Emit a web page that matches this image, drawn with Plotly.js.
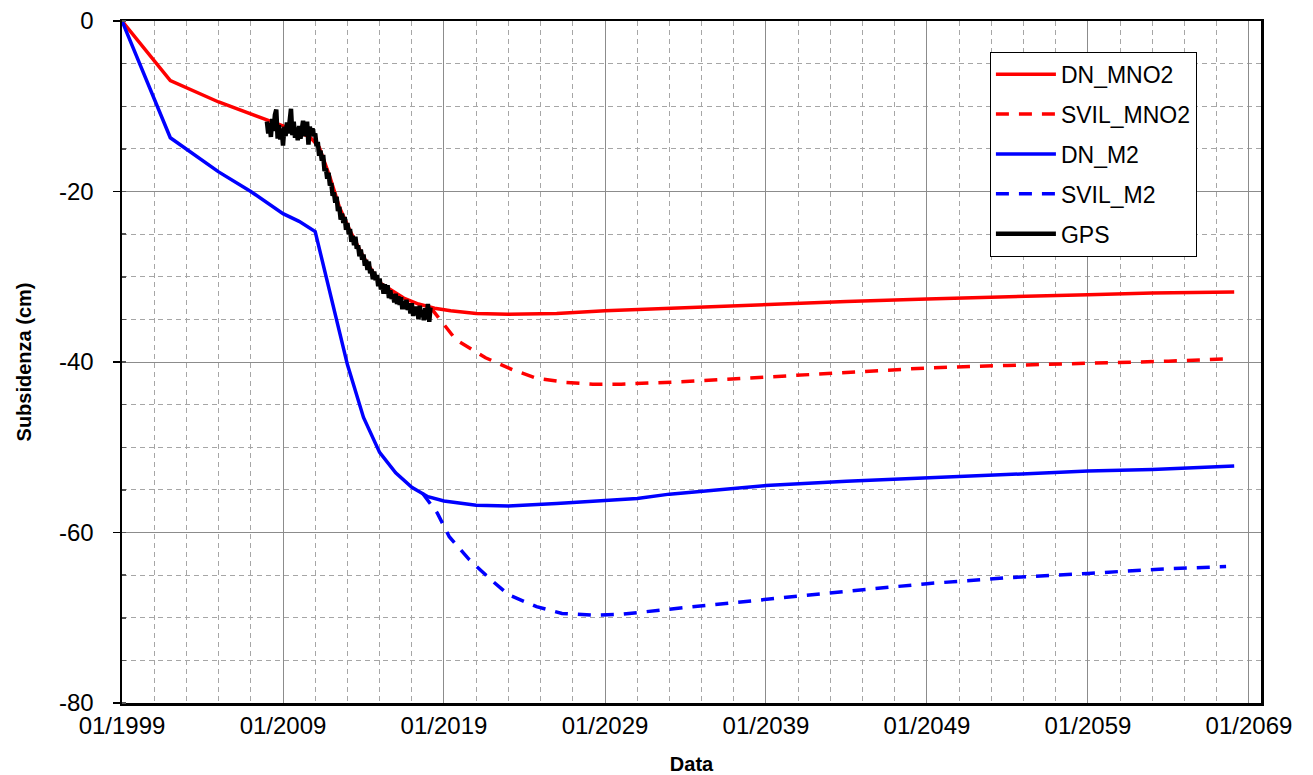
<!DOCTYPE html>
<html>
<head>
<meta charset="utf-8">
<script src="https://cdn.plot.ly/plotly-3.0.1.min.js"></script>
<style>html,body{margin:0;padding:0;background:#fff;}#chart{width:1313px;height:775px;}</style>
</head>
<body>
<div id="chart"></div>
<script>
// DN_MNO2 (red solid)
const dnMno2Dates = ['1999-01-01','2002-01-01','2005-01-01','2008-01-01','2009-06-01','2010-09-01','2011-04-01','2011-12-01','2012-07-01','2013-03-01','2014-01-01','2015-01-01','2016-01-01','2016-07-01','2017-06-01','2018-06-01','2019-06-01','2021-01-01','2023-01-01','2026-01-01','2029-01-01','2034-01-01','2039-01-01','2044-01-01','2049-01-01','2054-01-01','2059-01-01','2063-01-01','2068-02-01'];
const dnMno2Vals  = [0,-7.0,-9.5,-11.6,-12.6,-13.6,-14.8,-18.3,-21.8,-24.6,-27.7,-30.7,-31.9,-32.5,-33.2,-33.7,-34.0,-34.3,-34.4,-34.3,-34.0,-33.6,-33.2,-32.9,-32.6,-32.4,-32.1,-31.9,-31.8];

// SVIL_MNO2 (red dashed)
const svilMno2Dates = ['2018-03-01','2019-10-01','2021-08-01','2023-04-01','2024-10-01','2026-08-01','2028-04-01','2030-01-01','2034-01-01','2039-01-01','2044-01-01','2049-01-01','2054-01-01','2059-01-01','2064-01-01','2068-01-01'];
const svilMno2Vals  = [-33.6,-37.4,-39.5,-40.9,-41.9,-42.4,-42.6,-42.6,-42.3,-41.8,-41.2,-40.7,-40.4,-40.2,-39.9,-39.6];

// DN_M2 (blue solid)
const dnM2Dates = ['1999-01-01','2002-01-01','2005-01-01','2007-01-01','2009-01-01','2010-01-01','2011-01-01','2012-01-01','2013-01-01','2014-01-01','2015-01-01','2016-01-01','2017-01-01','2018-01-01','2019-01-01','2021-01-01','2023-01-01','2026-01-01','2029-01-01','2031-01-01','2033-01-01','2039-01-01','2044-01-01','2049-01-01','2054-01-01','2059-01-01','2063-01-01','2068-02-01'];
const dnM2Vals  = [0,-13.7,-17.7,-20.0,-22.6,-23.5,-24.7,-32.5,-40.3,-46.5,-50.6,-53.0,-54.7,-55.8,-56.3,-56.8,-56.9,-56.6,-56.3,-56.0,-55.5,-54.5,-54.0,-53.6,-53.1,-52.8,-52.6,-52.2];

// SVIL_M2 (blue dashed)
const svilM2Dates = ['2017-09-01','2018-08-01','2019-05-01','2020-08-01','2021-11-01','2023-01-01','2024-10-01','2026-05-01','2028-04-01','2030-01-01','2034-01-01','2039-01-01','2044-01-01','2049-01-01','2054-01-01','2059-01-01','2063-06-01','2067-08-01'];
const svilM2Vals  = [-55.4,-57.7,-60.5,-63.2,-65.4,-67.3,-68.7,-69.5,-69.7,-69.6,-68.8,-67.8,-66.9,-66.0,-65.3,-64.8,-64.3,-64.0];

// GPS (black), monthly readings starting 01/2008
const gpsStart = [2008, 1];
const gpsVals = [
  -11.8,-13.2,-12.0,-13.6,-11.5,-12.9,-11.0,-10.4,-13.8,-12.2,-13.9,-12.6,
  -14.6,-12.4,-13.5,-11.9,-13.2,-12.0,-10.3,-13.4,-11.8,-13.7,-12.5,-14.0,
  -12.3,-13.8,-12.6,-11.7,-13.5,-12.2,-11.8,-14.5,-12.4,-13.2,-12.6,-13.5,
  -13.2,-14.7,-14.2,-15.8,-15.2,-16.4,-15.7,-17.6,-17.3,-18.5,-17.8,-19.3,
  -19.0,-20.5,-20.1,-21.3,-20.6,-22.3,-21.8,-23.3,-22.6,-23.7,-23.0,-24.5,
  -23.7,-25.0,-24.4,-25.9,-25.2,-26.3,-25.3,-26.7,-26.3,-27.6,-26.8,-28.0,
  -27.4,-28.7,-28.0,-29.2,-28.2,-29.6,-29.1,-30.3,-29.4,-30.4,-29.8,-31.1,
  -30.2,-31.5,-30.8,-32.0,-30.9,-32.0,-31.0,-32.5,-31.6,-32.6,-32.0,-33.0,
  -32.0,-33.2,-32.3,-33.3,-32.4,-33.8,-32.9,-33.8,-32.7,-33.9,-33.1,-34.3,
  -33.1,-34.6,-33.5,-34.5,-33.5,-35.0,-33.4,-34.7,-33.9,-35.1,-33.7,-35.0,
  -33.2,-35.3,-33.6
];
const gpsDates = gpsVals.map((_, i) => {
  const m = gpsStart[1] - 1 + i;
  const y = gpsStart[0] + Math.floor(m / 12);
  const mm = (m % 12) + 1;
  return y + '-' + String(mm).padStart(2, '0') + '-01';
});

const seriesNames = ['DN_MNO2','SVIL_MNO2','DN_M2','SVIL_M2','GPS'];

// y tick labels (hyphen minus as in the original)
const yTickVals = [0, -20, -40, -60, -80];
const yTickText = ['0', '-20', '-40', '-60', '-80'];

const RED = '#ff0000', BLUE = '#0000ff';
const traces = [
  {x: dnMno2Dates, y: dnMno2Vals, name: seriesNames[0], legendgroup: 'g1', line: {color: RED, width: 3.5}},
  {x: svilMno2Dates, y: svilMno2Vals, name: seriesNames[1], legendgroup: 'g2', line: {color: RED, width: 3.5, dash: '13px,10px'}},
  {x: dnM2Dates, y: dnM2Vals, name: seriesNames[2], legendgroup: 'g3', line: {color: BLUE, width: 3.5}},
  {x: svilM2Dates, y: svilM2Vals, name: seriesNames[3], legendgroup: 'g4', line: {color: BLUE, width: 3.5, dash: '13px,10px'}},
  {x: gpsDates, y: gpsVals, name: seriesNames[4], legendgroup: 'g5', line: {color: '#000000', width: 4.5}}
].map(t => Object.assign({type: 'scatter', mode: 'lines'}, t));

const FONT = 'Liberation Sans, Arial, sans-serif';
const layout = {
  width: 1313, height: 775,
  margin: {l: 122, r: 52, t: 21, b: 72},
  paper_bgcolor: '#ffffff', plot_bgcolor: '#ffffff',
  font: {family: FONT, size: 24, color: '#000'},
  showlegend: true,
  legend: {
    x: 0.762, y: 0.955, xanchor: 'left', yanchor: 'top',
    bgcolor: '#ffffff', bordercolor: '#000000', borderwidth: 1,
    font: {family: FONT, size: 23, color: '#000'},
    traceorder: 'grouped', tracegroupgap: 7, itemwidth: 60
  },
  xaxis: {
    type: 'date',
    range: ['1999-01-01', '2069-10-01'],
    tick0: '1999-01-01', dtick: 'M120', tickformat: '%m/%Y',
    ticks: '', showline: true, mirror: true, linecolor: '#000', linewidth: 2.5,
    showgrid: true, gridcolor: '#8c8c8c', gridwidth: 1, zeroline: false,
    tickfont: {family: FONT, size: 24, color: '#000'},
    title: {text: '<b>Data</b>', font: {family: FONT, size: 20, color: '#000'}, standoff: 20},
    minor: {dtick: 'M24', tick0: '1999-01-01', showgrid: true, gridcolor: '#a6a6a6', gridwidth: 1, griddash: '5px,4px', ticks: ''}
  },
  yaxis: {
    range: [-80, 0],
    tickmode: 'array', tickvals: yTickVals, ticktext: yTickText,
    ticks: 'outside', ticklen: 7, tickcolor: '#000', tickwidth: 1.5,
    showline: true, mirror: true, linecolor: '#000', linewidth: 2.5,
    showgrid: true, gridcolor: '#8c8c8c', gridwidth: 1, zeroline: false,
    tickfont: {family: FONT, size: 24, color: '#000'},
    ticklabelstandoff: 14,
    title: {text: '<b>Subsidenza (cm)</b>', font: {family: FONT, size: 20, color: '#000'}, standoff: 22},
    minor: {dtick: 5, showgrid: true, gridcolor: '#a6a6a6', gridwidth: 1, griddash: '5px,4px', ticks: 'inside', ticklen: 4, tickcolor: '#555'}
  }
};

Plotly.newPlot('chart', traces, layout, {displayModeBar: false, staticPlot: true});
</script>
</body>
</html>
